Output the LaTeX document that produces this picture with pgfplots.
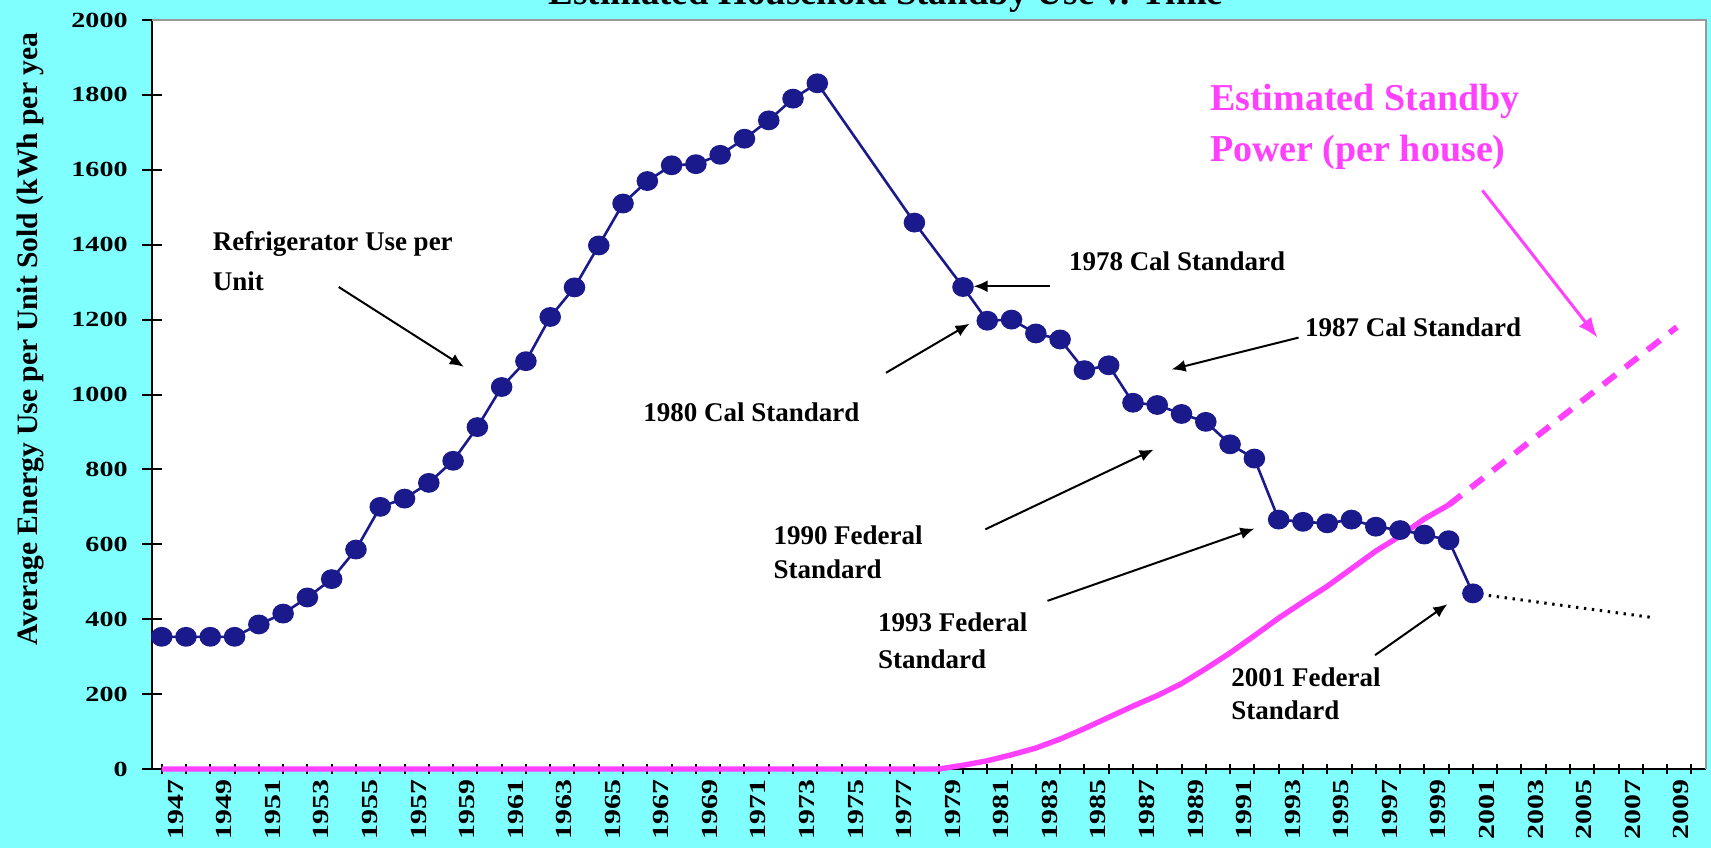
\documentclass[border=0pt]{standalone}
\usepackage{pgfplots}
\pgfplotsset{compat=1.18}
\usepackage{fontspec}
\setmainfont{Liberation Serif}
\newfontfamily\tickfont[FakeStretch=1.3]{Liberation Serif}
\usetikzlibrary{arrows.meta}
\definecolor{bgcyan}{HTML}{80FFFF}
\definecolor{navy}{HTML}{1A1A8C}
\definecolor{mag}{HTML}{FF40FF}
\definecolor{bordergray}{HTML}{999999}
\newcommand{\annfont}{\bfseries\fontsize{13.5}{16}\selectfont}
\newcommand{\ann}[3]{\node[anchor=base west, font=\annfont, inner sep=0pt] at (axis cs:#1,#2) {#3};}
\begin{document}
\begin{tikzpicture}
\fill[bgcyan] (0,0) rectangle (855.5pt,424pt);
\useasboundingbox (0,0) rectangle (855.5pt,424pt);
\begin{scope}
\clip (0,0) rectangle (855.5pt,424pt);
\node[anchor=base, font=\bfseries\fontsize{18.5}{20}\selectfont, inner sep=0pt] at (443pt,421.5pt) {Estimated Household Standby Use v. Time};
\end{scope}
\node[rotate=90, font=\bfseries\fontsize{14.8}{16}\selectfont, inner sep=0pt] at (15pt,254.5pt) {Average Energy Use per Unit Sold (kWh per yea};
\begin{axis}[
  at={(76pt,39.5pt)}, anchor=south west,
  scale only axis, width=777pt, height=374.5pt,
  xmin=1946.6, xmax=2010.6, ymin=0, ymax=2000,
  clip=false,
  axis lines*=left,
  axis line style={black, line width=1pt},
  axis background/.style={fill=white},
  xtick={1947,1949,...,2009},
  minor xtick={1948,1950,...,2010},
  ytick={0,200,...,2000},
  tick align=center,
  tick style={black, line width=1pt},
  major tick length=10pt,
  minor tick length=5pt,
  xtick style={/pgfplots/major tick length=5pt},
  /pgf/number format/assume math mode=true,
  /pgf/number format/1000 sep={},
  xticklabel style={rotate=90, anchor=east, inner sep=0pt, yshift=-7pt, font=\tickfont\bfseries\fontsize{11.5}{13}\selectfont},
  yticklabel style={anchor=east, inner sep=0pt, xshift=-7pt, font=\tickfont\bfseries\fontsize{10.8}{12}\selectfont},
  after end axis/.code={\draw[bordergray, line width=1pt] (rel axis cs:0,1) -- (rel axis cs:1,1) -- (rel axis cs:1,0);},
]
% standby power (magenta)
\addplot[mag, line width=2.7pt] coordinates {
(1947,0) (1979,0) (1980,10) (1981,22) (1982,38) (1983,56) (1984,80) (1985,108)
(1986,138) (1987,168) (1988,196) (1989,228) (1990,268) (1991,310) (1992,356)
(1993,403) (1994,446) (1995,488) (1996,535) (1997,582) (1998,622) (1999,668) (2000,705)};
\addplot[mag, line width=3pt, dash pattern=on 8pt off 6pt] coordinates {(2000,705) (2009.4,1180)};
% projection (black dotted)
\addplot[black, line width=1.5pt, dash pattern=on 1.2pt off 2.8pt] coordinates {(2001,469) (2008.45,404)};
% refrigerator use per unit
\addplot[navy, line width=1.3pt, mark=*, mark size=4.3pt, mark options={xscale=1.1, fill=navy, draw=navy, solid}] coordinates {
(1947,353) (1948,353) (1949,353) (1950,353) (1951,386) (1952,415) (1953,458) (1954,507)
(1955,586) (1956,700) (1957,722) (1958,764) (1959,823) (1960,913) (1961,1020) (1962,1089)
(1963,1207) (1964,1286) (1965,1398) (1966,1510) (1967,1570) (1968,1612) (1969,1615)
(1970,1640) (1971,1683) (1972,1732) (1973,1790) (1974,1831) (1978,1459) (1980,1287)
(1981,1197) (1982,1200) (1983,1163) (1984,1147) (1985,1065) (1986,1078) (1987,978)
(1988,972) (1989,948) (1990,927) (1991,867) (1992,829) (1993,666) (1994,660) (1995,656)
(1996,666) (1997,647) (1998,638) (1999,626) (2000,611) (2001,469)};
% annotations
\ann{1949.09}{1385}{Refrigerator Use per}
\ann{1949.09}{1278}{Unit}
\ann{1984.35}{1332}{1978 Cal Standard}
\ann{1966.82}{928}{1980 Cal Standard}
\ann{1994.07}{1156}{1987 Cal Standard}
\ann{1972.18}{600}{1990 Federal}
\ann{1972.18}{509}{Standard}
\ann{1976.49}{366}{1993 Federal}
\ann{1976.49}{269}{Standard}
\ann{1991.04}{221}{2001 Federal}
\ann{1991.04}{131}{Standard}
\node[anchor=base west, font=\bfseries\fontsize{19}{22}\selectfont, text=mag, inner sep=0pt] at (axis cs:1990.16,1759) {Estimated Standby};
\node[anchor=base west, font=\bfseries\fontsize{19}{22}\selectfont, text=mag, inner sep=0pt] at (axis cs:1990.16,1621) {Power (per house)};
\begin{scope}[black, line width=1pt, -{Latex[length=7pt,width=6pt]}]
\draw (axis cs:1954.29,1287) -- (axis cs:1959.44,1074);
\draw (axis cs:1983.58,1289) -- (axis cs:1980.44,1289);
\draw (axis cs:1976.83,1058) -- (axis cs:1980.27,1189);
\draw (axis cs:1993.82,1152) -- (axis cs:1988.59,1067);
\draw (axis cs:1980.92,640) -- (axis cs:1987.85,853);
\draw (axis cs:1983.48,449) -- (axis cs:1992.00,642);
\draw (axis cs:1996.97,304) -- (axis cs:1999.95,440);
\end{scope}
\draw[mag, line width=1.5pt, -{Latex[length=10pt,width=8pt]}] (axis cs:2001.39,1545) -- (axis cs:2006.13,1152);
\end{axis}
\end{tikzpicture}
\end{document}
